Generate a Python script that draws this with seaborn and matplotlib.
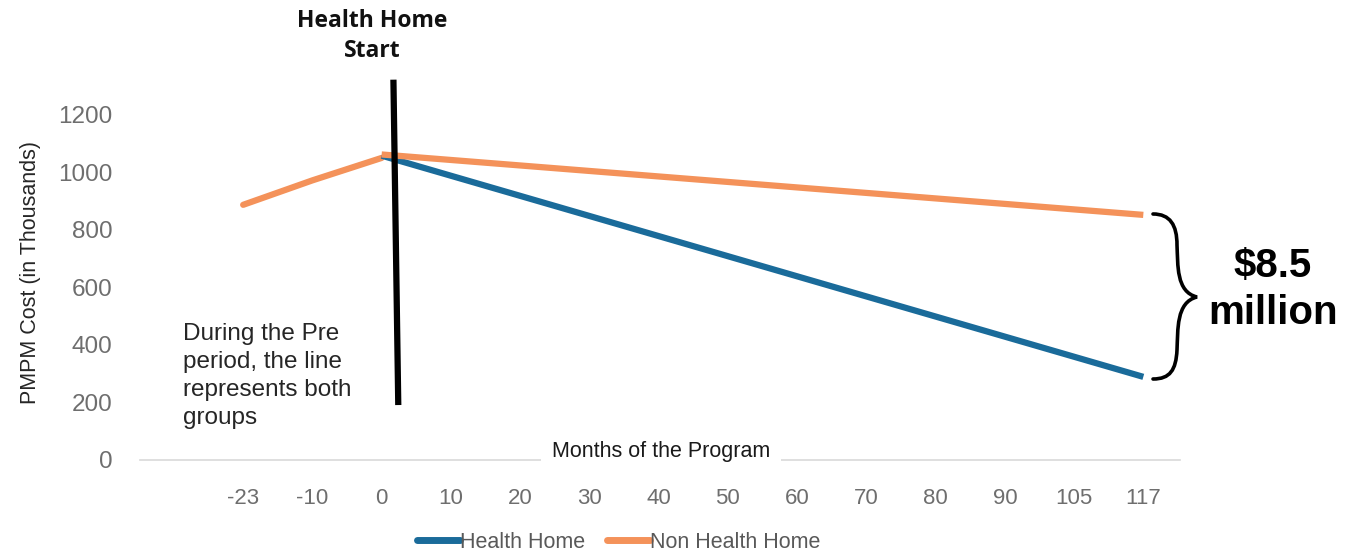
import matplotlib
matplotlib.use("Agg")
import matplotlib.pyplot as plt
import seaborn as sns
import pandas as pd
from matplotlib.path import Path
from matplotlib.patches import PathPatch
from matplotlib.lines import Line2D

# ---- data ----
months = ['-23', '-10', '0', '10', '20', '30', '40', '50', '60', '70', '80', '90', '105', '117']
pre_months = ['-23', '-10', '0']
pre_cost = [887, 972, 1050]
post_months = ['0', '117']
hh_cost = [1058, 289]
nhh_cost = [1062, 852]
yticks = [0, 200, 400, 600, 800, 1000, 1200]

BLUE = '#1a6b9a'
ORANGE = '#f4925a'
GRAY = '#6e6e6e'

sns.set_theme(style='white')
plt.rcParams['font.family'] = ['Liberation Sans', 'DejaVu Sans']

W, H = 1353, 553
fig = plt.figure(figsize=(W / 100, H / 100), dpi=100)


def fx(x):
    return x / W


def fy(y):
    return 1 - y / H


ax = fig.add_axes([fx(140), fy(460), fx(1180) - fx(140), fy(86) - fy(460)])

pos = {m: i for i, m in enumerate(months)}
pre_df = pd.DataFrame({'pos': [pos[m] for m in pre_months], 'cost': pre_cost})
post_df = pd.DataFrame({
    'pos': [pos[m] for m in post_months] * 2,
    'cost': hh_cost + nhh_cost,
    'group': ['Health Home'] * 2 + ['Non Health Home'] * 2,
})

sns.lineplot(data=pre_df, x='pos', y='cost', color=ORANGE, lw=4.5, ax=ax,
             legend=False, solid_capstyle='round')
sns.lineplot(data=post_df, x='pos', y='cost', hue='group',
             palette={'Health Home': BLUE, 'Non Health Home': ORANGE},
             lw=4.5, ax=ax, legend=False, solid_capstyle='butt')

ax.set_xlim(-1.49, 13.53)
ax.set_ylim(0, 1300)
ax.set_xticks(range(len(months)))
ax.set_xticklabels(months)
ax.set_yticks(yticks)
ax.tick_params(axis='x', length=0, pad=20, labelsize=16, labelcolor=GRAY)
ax.tick_params(axis='y', length=0, pad=20, labelsize=17.5, labelcolor=GRAY)
for s in ['top', 'right', 'left']:
    ax.spines[s].set_visible(False)
ax.spines['bottom'].set_color('#d9d9d9')
ax.spines['bottom'].set_linewidth(1.2)
ax.set_xlabel('')
ax.set_ylabel('PMPM Cost (in Thousands)', fontsize=15.5, color='#262626', labelpad=12)

# vertical "Health Home Start" line
ax.plot([2.17, 2.24], [1322, 191], color='black', lw=4.5, clip_on=False,
        solid_capstyle='butt', zorder=5)
fig.text(fx(372), fy(36), 'Health Home\nStart', ha='center', va='center',
         fontsize=16.5, fontweight='bold', family='Open Sans', linespacing=1.35,
         color='#111111')

# x-axis title over the axis line
fig.text(fx(661), fy(452), 'Months of the Program', ha='center', va='center',
         fontsize=15.5, color='#1a1a1a',
         bbox=dict(facecolor='white', edgecolor='none', pad=8))

# annotation
fig.text(fx(183), fy(323), 'During the Pre\nperiod, the line\nrepresents both\ngroups',
         ha='left', va='top', fontsize=17.5, color='#262626', linespacing=1.36)

# curly brace
verts = [
    (1153, 214), (1170, 214), (1177, 225), (1177, 245),
    (1178, 265), (1176, 292), (1197, 297),
    (1176, 302), (1178, 330), (1177, 350),
    (1176, 370), (1170, 379), (1153, 379),
]
codes = [Path.MOVETO] + [Path.CURVE4] * 12
path = Path([(fx(x), fy(y)) for x, y in verts], codes)
fig.add_artist(PathPatch(path, transform=fig.transFigure, fill=False,
                         lw=2.6, edgecolor='black', capstyle='round'))
fig.text(fx(1273), fy(290), '$8.5\nmillion', ha='center', va='center',
         fontsize=29, fontweight='bold', color='black', linespacing=1.3)

# legend
handles = [Line2D([], [], color=BLUE, lw=5, solid_capstyle='round'),
           Line2D([], [], color=ORANGE, lw=5, solid_capstyle='round')]
fig.legend(handles, ['Health Home', 'Non Health Home'], loc='center',
           bbox_to_anchor=(fx(619), fy(542)), ncol=2, frameon=False,
           fontsize=15.5, handlelength=2.0, handletextpad=0.0, columnspacing=1.0,
           labelcolor='#595959')

fig.savefig('out.png', dpi=100)
